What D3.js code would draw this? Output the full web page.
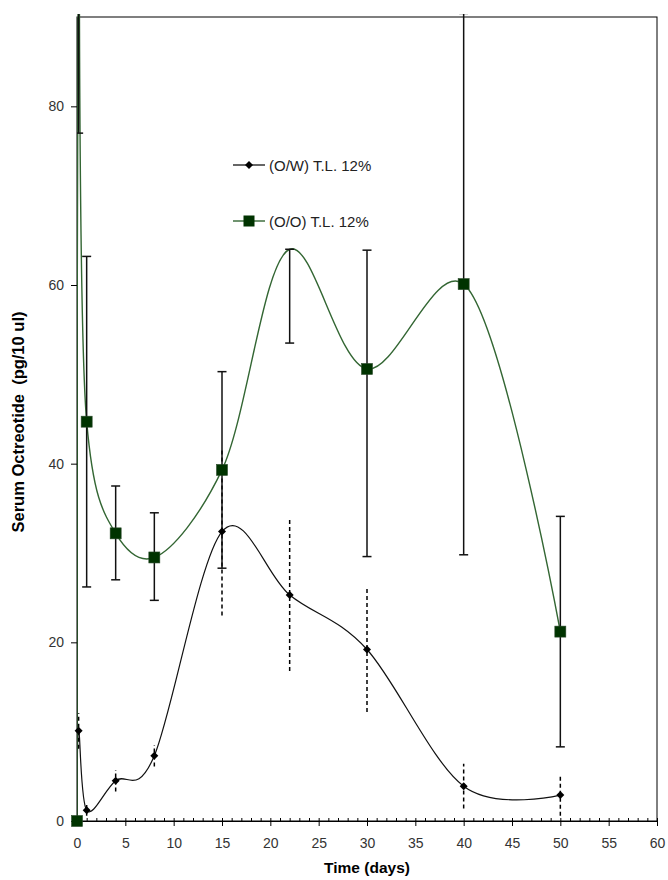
<!DOCTYPE html>
<html>
<head>
<meta charset="utf-8">
<script src="https://cdn.jsdelivr.net/npm/d3@7"></script>
<style>
  body { margin: 0; background: #fff; }
  text { font-family: Arial, "Liberation Sans", sans-serif; }
</style>
</head>
<body>
<div id="chart"></div>
<script>
//////////////////////////////////////////////////////////////////////////////
// Data

var days      = [0, 0.17, 1, 4, 8, 15, 22, 30, 40, 50];

// (O/W) T.L. 12% : mean and +/- error (dashed bars)
var owMean    = [0, 10.1, 1.2, 4.5, 7.3, 32.4, 25.3, 19.2, 3.9, 2.9];
var owErr     = [0, 2.0, 0.6, 1.2, 1.2, 9.4, 8.5, 7.0, 2.5, 2.3];

// (O/O) T.L. 12% : mean, lower and upper error bar ends
var ooMean    = [0, 110, 44.7, 32.2, 29.5, 39.3, 64.0, 50.6, 60.1, 21.2];
var ooLow     = [0, 77, 26.2, 27.0, 24.7, 28.3, 53.5, 29.6, 29.8, 8.3];
var ooHigh    = [0, 143, 63.2, 37.5, 34.5, 50.3, 64.0, 63.9, 90.4, 34.1];
var ooMarked  = [true, true, true, true, true, true, false, true, true, true];

var xTicks    = [0, 5, 10, 15, 20, 25, 30, 35, 40, 45, 50, 55, 60];
var yTicks    = [0, 20, 40, 60, 80];
var legendLabels = ["(O/W) T.L. 12%", "(O/O) T.L. 12%"];

//////////////////////////////////////////////////////////////////////////////
// Preliminaries

var W = 668, H = 880;
var margin = {left: 77, top: 17, right: 11, bottom: 59};
var pw = W - margin.left - margin.right;
var ph = H - margin.top - margin.bottom;

var xScale = d3.scaleLinear().domain([0, 60]).range([0, pw]);
var yScale = d3.scaleLinear().domain([0, 90]).range([ph, 0]);

var green = "#336633";
var darkGreen = "#003300";

var svg = d3.select("#chart")
    .append("svg")
    .attr("width", W)
    .attr("height", H);

svg.append("defs")
    .append("clipPath")
    .attr("id", "plotclip")
    .append("rect")
    .attr("x", 0).attr("y", -3)
    .attr("width", pw).attr("height", ph + 3);

var g = svg.append("g")
    .attr("transform", "translate(" + margin.left + "," + margin.top + ")");

var owData = days.map(function(d, i) { return {t: d, v: owMean[i], e: owErr[i]}; });
var ooData = days.map(function(d, i) {
    return {t: d, v: ooMean[i], lo: ooLow[i], hi: ooHigh[i], m: ooMarked[i]};
});

function inRange(d) { return d.v <= yScale.domain()[1]; }

//////////////////////////////////////////////////////////////////////////////
// Frame and axes

g.append("rect")
    .attr("width", pw).attr("height", ph)
    .attr("fill", "none")
    .attr("stroke", "#000")
    .attr("stroke-width", 1);

var xAxis = g.append("g")
    .attr("transform", "translate(0," + ph + ")")
    .call(d3.axisBottom(xScale).tickValues(xTicks).tickSizeInner(5).tickSizeOuter(0).tickPadding(12));

var xMinor = g.append("g")
    .attr("transform", "translate(0," + ph + ")")
    .call(d3.axisBottom(xScale).tickValues(d3.range(0, 61, 1)).tickSize(-3).tickFormat(""));

var yAxis = g.append("g")
    .call(d3.axisLeft(yScale).tickValues(yTicks).tickSizeInner(6).tickSizeOuter(0).tickPadding(7));

[xAxis, xMinor, yAxis].forEach(function(a) {
    a.select(".domain").attr("stroke", "#000");
    a.selectAll("line").attr("stroke", "#000");
    a.selectAll("text")
        .attr("fill", "#333")
        .style("font-size", "14px")
        .style("font-family", "Arial, 'Liberation Sans', sans-serif");
});

svg.append("text")
    .attr("x", margin.left + pw / 2)
    .attr("y", 873)
    .attr("text-anchor", "middle")
    .style("font-size", "15.5px")
    .style("font-weight", "bold")
    .text("Time (days)");

svg.append("text")
    .attr("transform", "translate(24," + (margin.top + ph / 2 + 3) + ") rotate(-90)")
    .attr("text-anchor", "middle")
    .attr("xml:space", "preserve")
    .style("white-space", "pre")
    .style("font-size", "16.5px")
    .style("font-weight", "bold")
    .text("Serum Octreotide  (pg/10 ul)");

//////////////////////////////////////////////////////////////////////////////
// Series

var plot = g.append("g").attr("clip-path", "url(#plotclip)");

function smoothLine(alpha) {
    return d3.line()
        .x(function(d) { return xScale(d.t); })
        .y(function(d) { return yScale(d.v); })
        .curve(d3.curveCatmullRom.alpha(alpha));
}

// O/W curve
plot.append("path")
    .datum(owData)
    .attr("d", smoothLine(0))
    .attr("fill", "none")
    .attr("stroke", "#111")
    .attr("stroke-width", 1.2);

// O/W dashed error bars
plot.append("g")
    .selectAll("line")
    .data(owData.filter(function(d) { return d.e > 0; }))
    .enter()
    .append("line")
    .attr("x1", function(d) { return xScale(d.t); })
    .attr("x2", function(d) { return xScale(d.t); })
    .attr("y1", function(d) { return yScale(d.v - d.e); })
    .attr("y2", function(d) { return yScale(d.v + d.e); })
    .attr("stroke", "#000")
    .attr("stroke-width", 1.5)
    .attr("stroke-dasharray", "4,3");

// O/W diamonds
g.append("g")
    .selectAll("path")
    .data(owData.filter(inRange))
    .enter()
    .append("path")
    .attr("transform", function(d) {
        return "translate(" + xScale(d.t) + "," + yScale(d.v) + ")";
    })
    .attr("d", "M0,-4 L4,0 L0,4 L-4,0 Z")
    .attr("fill", "#000");

// O/O curve
plot.append("path")
    .datum(ooData)
    .attr("d", smoothLine(0.25))
    .attr("fill", "none")
    .attr("stroke", green)
    .attr("stroke-width", 1.4);

// O/O error bars with caps
var ooBars = plot.append("g")
    .selectAll("g")
    .data(ooData.filter(function(d) { return d.hi > d.lo; }))
    .enter()
    .append("g")
    .attr("stroke", "#111")
    .attr("stroke-width", 1.5);

ooBars.append("line")
    .attr("x1", function(d) { return xScale(d.t); })
    .attr("x2", function(d) { return xScale(d.t); })
    .attr("y1", function(d) { return yScale(d.lo); })
    .attr("y2", function(d) { return yScale(d.hi); });

ooBars.selectAll("line.cap")
    .data(function(d) { return [{t: d.t, v: d.lo}, {t: d.t, v: d.hi}]; })
    .enter()
    .append("line")
    .attr("class", "cap")
    .attr("x1", function(d) { return xScale(d.t) - 4.5; })
    .attr("x2", function(d) { return xScale(d.t) + 4.5; })
    .attr("y1", function(d) { return yScale(d.v); })
    .attr("y2", function(d) { return yScale(d.v); });

// O/O squares
g.append("g")
    .selectAll("rect")
    .data(ooData.filter(function(d) { return d.m && inRange(d); }))
    .enter()
    .append("rect")
    .attr("x", function(d) { return xScale(d.t) - 5.5; })
    .attr("y", function(d) { return yScale(d.v) - 5.5; })
    .attr("width", 11)
    .attr("height", 11)
    .attr("fill", darkGreen)
    .attr("stroke", "#2a4a2a")
    .attr("stroke-width", 0.6);

//////////////////////////////////////////////////////////////////////////////
// Legend

var legend = svg.append("g").attr("transform", "translate(233,165)");

var l1 = legend.append("g");
l1.append("line").attr("x1", 0).attr("x2", 32).attr("stroke", "#000").attr("stroke-width", 1.2);
l1.append("path").attr("d", "M16,-4 L20,0 L16,4 L12,0 Z").attr("fill", "#000");
l1.append("text").attr("x", 36).attr("y", 5.5).style("font-size", "15px").attr("fill", "#222").text(legendLabels[0]);

var l2 = legend.append("g").attr("transform", "translate(0,56)");
l2.append("line").attr("x1", 0).attr("x2", 32).attr("stroke", green).attr("stroke-width", 1.4);
l2.append("rect").attr("x", 10.5).attr("y", -5.5).attr("width", 11).attr("height", 11).attr("fill", darkGreen);
l2.append("text").attr("x", 36).attr("y", 5.5).style("font-size", "15px").attr("fill", "#222").text(legendLabels[1]);
</script>
</body>
</html>
